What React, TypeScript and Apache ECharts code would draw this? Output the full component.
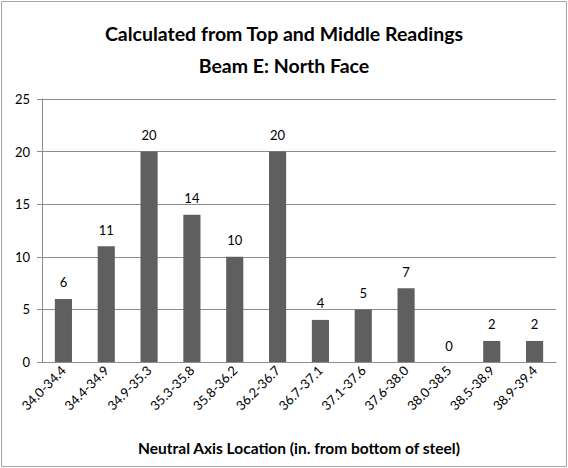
import React, { useEffect, useRef } from "react";
import * as echarts from "echarts";

const categories = [
  "34.0-34.4", "34.4-34.9", "34.9-35.3", "35.3-35.8", "35.8-36.2", "36.2-36.7",
  "36.7-37.1", "37.1-37.6", "37.6-38.0", "38.0-38.5", "38.5-38.9", "38.9-39.4",
];
const counts = [6, 11, 20, 14, 10, 20, 4, 5, 7, 0, 2, 2];
const titleLines = ["Calculated from Top and Middle Readings", "Beam E: North Face"];
const xAxisName = "Neutral Axis Location (in. from bottom of steel)";

const FONT = "Lato, 'Open Sans', sans-serif";

export default function App() {
  const ref = useRef<HTMLDivElement>(null);
  useEffect(() => {
    if (!ref.current) return;
    const chart = echarts.init(ref.current, undefined, { renderer: "svg" });
    chart.setOption({
      animation: false,
      backgroundColor: "#ffffff",
      textStyle: { fontFamily: FONT },
      title: {
        text: titleLines.join("\n"),
        left: "center",
        top: 12,
        textStyle: { fontSize: 19.5, fontWeight: "bold", color: "#000", lineHeight: 32, fontFamily: FONT },
      },
      graphic: [
        {
          type: "rect",
          shape: { x: 1.5, y: 1.5, width: 565, height: 465 },
          style: { fill: "none", stroke: "#a6a6a6", lineWidth: 1 },
          silent: true,
        },
      ],
      grid: { left: 42, right: 12, top: 99, bottom: 106 },
      xAxis: {
        type: "category",
        data: categories,
        name: xAxisName,
        nameLocation: "middle",
        nameGap: 78,
        nameTextStyle: { fontSize: 15.5, fontWeight: "bold", color: "#000", fontFamily: FONT },
        axisLine: { lineStyle: { color: "#8c8c8c" } },
        axisTick: { show: false },
        axisLabel: { rotate: 45, fontSize: 13, color: "#000", margin: 6, interval: 0, fontFamily: FONT },
      },
      yAxis: {
        type: "value",
        min: 0,
        max: 25,
        interval: 5,
        axisLine: { show: true, lineStyle: { color: "#8c8c8c" } },
        axisTick: { show: true, length: 5, inside: false, lineStyle: { color: "#8c8c8c" } },
        axisLabel: { fontSize: 13, color: "#000", margin: 12, fontFamily: FONT },
        splitLine: { lineStyle: { color: "#8c8c8c" } },
      },
      series: [
        {
          type: "bar",
          data: counts,
          barWidth: "40%",
          itemStyle: { color: "#5f5f5f" },
          label: { show: true, position: "top", distance: 10, fontSize: 13, color: "#000", fontFamily: FONT },
        },
      ],
    });
    return () => chart.dispose();
  }, []);
  return (
    <div
      ref={ref}
      style={{ position: "fixed", left: 0, top: 0, width: 568, height: 468 }}
    />
  );
}
